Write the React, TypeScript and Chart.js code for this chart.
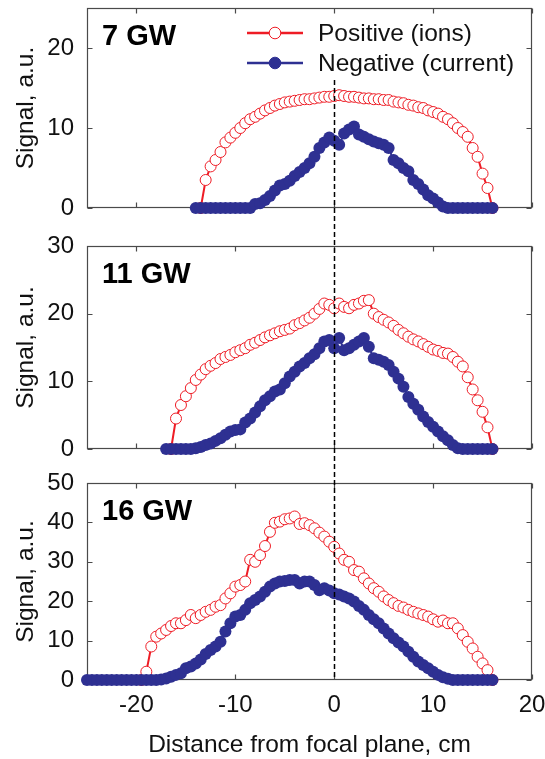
import React, { useEffect, useRef } from 'react';
import { Chart, registerables } from 'chart.js';

Chart.register(...registerables);

const _ = null;

// Distance from focal plane, cm (shared sampling grid)
const X = [
  -25, -24.5, -24, -23.5, -23, -22.5, -22, -21.5, -21, -20.5,
  -20, -19.5, -19, -18.5, -18, -17.5, -17, -16.5, -16, -15.5,
  -15, -14.5, -14, -13.5, -13, -12.5, -12, -11.5, -11, -10.5,
  -10, -9.5, -9, -8.5, -8, -7.5, -7, -6.5, -6, -5.5,
  -5, -4.5, -4, -3.5, -3, -2.5, -2, -1.5, -1, -0.5,
  0, 0.5, 1, 1.5, 2, 2.5, 3, 3.5, 4, 4.5,
  5, 5.5, 6, 6.5, 7, 7.5, 8, 8.5, 9, 9.5,
  10, 10.5, 11, 11.5, 12, 12.5, 13, 13.5, 14, 14.5,
  15, 15.5, 16,
];

const X_TICKS = [-20, -10, 0, 10, 20];

// 7 GW
const POS_7 = [
  _, _, _, _, _, _, _, _, _, _,
  _, _, _, _, _, _, _, _, _, _,
  _, _, _, 0, 3.5, 5.2, 6.0, 7.0, 8.2, 8.8,
  9.4, 10.0, 10.6, 11.1, 11.4, 11.8, 12.2, 12.5, 12.8, 13.0,
  13.2, 13.3, 13.4, 13.5, 13.6, 13.6, 13.7, 13.8, 13.9, 13.9,
  14.0, 14.1, 14.0, 13.9, 13.9, 13.8, 13.7, 13.7, 13.6, 13.6,
  13.5, 13.5, 13.3, 13.2, 13.1, 12.9, 12.8, 12.6, 12.5, 12.2,
  12.0, 11.8, 11.4, 11.1, 10.6, 10.0, 9.5, 8.9, 7.5, 6.4,
  4.3, 2.5, 0,
];
const NEG_7 = [
  _, _, _, _, _, _, _, _, _, _,
  _, _, _, _, _, _, _, _, _, _,
  _, _, 0, 0, 0, 0, 0, 0, 0, 0,
  0, 0, 0, 0, 0.5, 0.6, 1.0, 1.5, 2.2, 2.8,
  3.0, 3.4, 4.0, 4.5, 5.0, 5.6, 6.4, 7.5, 8.2, 8.8,
  8.4, 7.9, 9.3, 9.8, 10.2, 9.2, 8.9, 8.6, 8.3, 8.1,
  7.9, 7.5, 6.0, 5.6, 5.0, 4.6, 3.5, 3.0, 2.3, 1.6,
  1.2, 0.7, 0.2, 0, 0, 0, 0, 0, 0, 0,
  0, 0, 0,
];
const Y_TICKS_7 = [0, 10, 20];

// 11 GW
const POS_11 = [
  _, _, _, _, _, _, _, _, _, _,
  _, _, _, _, _, _, _, 0, 4.5, 6.5,
  7.8, 9.0, 10.2, 11.0, 11.8, 12.3, 12.7, 13.3, 13.6, 13.9,
  14.3, 14.6, 14.9, 15.4, 15.7, 16.1, 16.5, 16.8, 17.1, 17.4,
  17.6, 17.8, 18.3, 18.6, 19.0, 19.4, 20.0, 20.7, 21.5, 21.3,
  20.8, 21.5, 21.0, 20.8, 21.3, 21.5, 21.9, 22.0, 20.0, 19.5,
  19.1, 18.7, 18.2, 17.6, 17.1, 16.6, 16.2, 15.9, 15.5, 15.1,
  14.7, 14.5, 14.2, 14.1, 13.6, 12.9, 12.2, 10.6, 8.8, 7.2,
  5.5, 3.2, 0,
];
const NEG_11 = [
  _, _, _, _, _, _, _, _, _, _,
  _, _, _, _, _, _, 0, 0, 0, 0,
  0, 0, 0.1, 0.3, 0.6, 0.8, 1.2, 1.6, 2.1, 2.6,
  2.8, 2.9, 3.9, 4.5, 5.4, 6.3, 7.2, 7.8, 8.5, 8.8,
  9.7, 10.7, 11.4, 12.2, 12.7, 13.4, 14.0, 14.9, 15.9, 16.1,
  14.9, 16.4, 14.6, 14.9, 15.4, 15.9, 16.4, 15.1, 13.4, 13.2,
  12.9, 12.4, 11.4, 10.4, 9.2, 7.7, 6.7, 5.8, 4.8, 4.0,
  3.3, 2.6, 1.9, 1.3, 0.6, 0.1, 0, 0, 0, 0,
  0, 0, 0,
];
const Y_TICKS_11 = [0, 10, 20, 30];

// 16 GW
const POS_16 = [
  _, _, _, _, _, _, _, _, _, _,
  _, 0, 2.1, 8.5, 11.0, 11.8, 12.7, 13.7, 14.4, 14.4,
  15.2, 16.5, 15.7, 16.5, 17.3, 17.8, 18.6, 19.0, 20.7, 22.0,
  23.7, 24.1, 25.0, 30.5, 30.0, 31.7, 34.0, 37.6, 39.9, 40.2,
  40.8, 41.0, 41.5, 39.6, 39.8, 39.3, 38.5, 37.4, 36.4, 35.1,
  33.8, 32.1, 30.5, 30.0, 27.9, 27.5, 25.8, 24.5, 23.3, 22.4,
  21.2, 20.3, 19.5, 18.8, 18.4, 17.8, 17.3, 16.9, 16.5, 16.1,
  15.4, 14.8, 15.1, 14.4, 14.4, 13.1, 11.4, 9.7, 8.0, 5.9,
  4.2, 2.5, 0,
];
const NEG_16 = [
  0, 0, 0, 0, 0, 0, 0, 0, 0, 0,
  0, 0, 0, 0, 0, 0.1, 0.4, 0.8, 1.3, 1.7,
  3.0, 3.4, 4.2, 5.2, 6.6, 7.6, 8.5, 9.7, 12.3, 14.4,
  16.1, 16.5, 17.8, 19.5, 20.3, 21.2, 22.4, 23.7, 24.5, 25.0,
  25.1, 25.4, 25.4, 24.5, 25.0, 25.0, 24.1, 22.8, 23.3, 22.7,
  22.0, 21.7, 21.2, 20.7, 19.9, 18.8, 17.8, 16.5, 15.4, 14.4,
  13.1, 11.8, 10.6, 9.5, 8.5, 7.2, 5.9, 4.7, 3.8, 3.0,
  2.1, 1.3, 0.7, 0.3, 0, 0, 0, 0, 0, 0,
  0, 0, 0,
];
const Y_TICKS_16 = [0, 10, 20, 30, 40, 50];

const SERIES_NAMES = ['Positive (ions)', 'Negative (current)'];
const X_TITLE = 'Distance from focal plane, cm';
const Y_TITLE = 'Signal, a.u.';

const W = 545;
const H = 759;
const LEFT = 87;
const RIGHT = 532;
const TICK = 5;
const FONT = '"Liberation Sans", Arial, Helvetica, sans-serif';
const TICK_SIZE = 24;
const TEXT_SIZE = 24.5;
const RED = '#ee1c25';
const BLUE = '#2e3092';
const FRAME = '#4a4a4a';
const TEXT = '#111111';

type Panel = {
  label: string;
  pos: (number | null)[];
  neg: (number | null)[];
  yMax: number;
  yTicks: number[];
  top: number;
  bottom: number;
  legend?: boolean;
  last?: boolean;
};

const PANELS: Panel[] = [
  { label: '7 GW', pos: POS_7, neg: NEG_7, yMax: 25, yTicks: Y_TICKS_7, top: 8, bottom: 208, legend: true },
  { label: '11 GW', pos: POS_11, neg: NEG_11, yMax: 30, yTicks: Y_TICKS_11, top: 246, bottom: 449 },
  { label: '16 GW', pos: POS_16, neg: NEG_16, yMax: 50, yTicks: Y_TICKS_16, top: 483, bottom: 680, last: true },
];

const toPoints = (vals: (number | null)[]) =>
  X.map((x, i) => ({ x, y: vals[i] })).filter((p) => p.y !== null && p.y !== undefined);

const zeroPad = (s: any) => {
  s.paddingTop = 0;
  s.paddingBottom = 0;
  s.paddingLeft = 0;
  s.paddingRight = 0;
};

function makePlugin(p: Panel) {
  return {
    id: 'frameDecor',
    beforeDatasetsDraw(chart: any) {
      const { ctx, chartArea: a, scales } = chart;
      ctx.save();
      ctx.strokeStyle = FRAME;
      ctx.lineWidth = 1.2;
      const l = Math.round(a.left) + 0.5;
      const r = Math.round(a.right) - 0.5;
      const t = Math.round(a.top) + 0.5;
      const b = Math.round(a.bottom) - 0.5;
      ctx.strokeRect(l, t, r - l, b - t);
      ctx.beginPath();
      X_TICKS.forEach((v) => {
        const px = Math.round(scales.x.getPixelForValue(v)) + 0.5;
        ctx.moveTo(px, b);
        ctx.lineTo(px, b - TICK);
        ctx.moveTo(px, t);
        ctx.lineTo(px, t + TICK);
      });
      p.yTicks.forEach((v) => {
        const py = Math.round(scales.y.getPixelForValue(v)) + 0.5;
        ctx.moveTo(l, py);
        ctx.lineTo(l + TICK, py);
        ctx.moveTo(r, py);
        ctx.lineTo(r - TICK, py);
      });
      ctx.stroke();
      ctx.restore();
    },
    afterDraw(chart: any) {
      const { ctx, chartArea: a, scales } = chart;
      ctx.save();
      // panel label
      ctx.fillStyle = '#000';
      ctx.font = `bold 29px ${FONT}`;
      ctx.textAlign = 'left';
      ctx.textBaseline = 'middle';
      ctx.fillText(p.label, 102, a.top + 29);

      // y title
      ctx.save();
      ctx.translate(26, (a.top + a.bottom) / 2);
      ctx.rotate(-Math.PI / 2);
      ctx.font = `${TEXT_SIZE}px ${FONT}`;
      ctx.fillStyle = TEXT;
      ctx.textAlign = 'center';
      ctx.textBaseline = 'middle';
      ctx.fillText(Y_TITLE, 0, 0);
      ctx.restore();

      if (p.legend) {
        const rows = [
          { name: SERIES_NAMES[0], color: RED, fill: '#fff', y: a.top + 25 },
          { name: SERIES_NAMES[1], color: BLUE, fill: BLUE, y: a.top + 55 },
        ];
        rows.forEach((row) => {
          ctx.strokeStyle = row.color;
          ctx.lineWidth = 2.4;
          ctx.beginPath();
          ctx.moveTo(247, row.y);
          ctx.lineTo(303, row.y);
          ctx.stroke();
          ctx.beginPath();
          ctx.arc(275, row.y, 5.8, 0, Math.PI * 2);
          ctx.fillStyle = row.fill;
          ctx.fill();
          ctx.lineWidth = 1;
          ctx.stroke();
          ctx.fillStyle = TEXT;
          ctx.font = `${TEXT_SIZE}px ${FONT}`;
          ctx.textAlign = 'left';
          ctx.textBaseline = 'middle';
          ctx.fillText(row.name, 318, row.y + 1);
        });
      }

      if (p.last) {
        ctx.fillStyle = TEXT;
        ctx.font = `${TEXT_SIZE}px ${FONT}`;
        ctx.textAlign = 'center';
        ctx.textBaseline = 'middle';
        ctx.fillText(X_TITLE, (a.left + a.right) / 2, 745);

        const x0 = Math.round(scales.x.getPixelForValue(0)) + 0.5;
        ctx.strokeStyle = '#000';
        ctx.lineWidth = 1.5;
        ctx.setLineDash([5, 3]);
        ctx.beginPath();
        ctx.moveTo(x0, 80);
        ctx.lineTo(x0, a.bottom);
        ctx.stroke();
      }
      ctx.restore();
    },
  };
}

export default function App() {
  const refs = [useRef<HTMLCanvasElement>(null), useRef<HTMLCanvasElement>(null), useRef<HTMLCanvasElement>(null)];

  useEffect(() => {
    const charts = PANELS.map((p, idx) => {
      const canvas = refs[idx].current!;
      return new Chart(canvas, {
        type: 'line',
        data: {
          datasets: [
            {
              label: SERIES_NAMES[0],
              data: toPoints(p.pos),
              borderColor: RED,
              borderWidth: 2,
              pointRadius: 5.5,
              pointBackgroundColor: '#ffffff',
              pointBorderColor: RED,
              pointBorderWidth: 1,
              order: 1,
              clip: false,
              tension: 0,
            },
            {
              label: SERIES_NAMES[1],
              data: toPoints(p.neg),
              borderColor: BLUE,
              borderWidth: 2,
              pointRadius: 6,
              pointBackgroundColor: BLUE,
              pointBorderColor: BLUE,
              pointBorderWidth: 0,
              order: 0,
              clip: false,
              tension: 0,
            },
          ],
        },
        options: {
          responsive: false,
          animation: false,
          devicePixelRatio: 1,
          events: [],
          layout: {
            autoPadding: false,
            padding: {
              left: 0,
              right: W - RIGHT,
              top: p.top,
              bottom: p.last ? 0 : H - p.bottom,
            },
          },
          plugins: { legend: { display: false }, tooltip: { enabled: false } },
          scales: {
            x: {
              type: 'linear',
              min: -25,
              max: 20,
              grid: { display: false, drawTicks: false },
              border: { display: false },
              afterBuildTicks: (s: any) => {
                s.ticks = X_TICKS.map((v) => ({ value: v }));
              },
              afterFit: (s: any) => {
                s.height = p.last ? H - p.bottom : 0;
                zeroPad(s);
              },
              ticks: {
                display: !!p.last,
                padding: 11,
                autoSkip: false,
                maxRotation: 0,
                color: TEXT,
                font: { family: FONT, size: TICK_SIZE },
                callback: (v: any) => String(v),
              },
            },
            y: {
              type: 'linear',
              min: 0,
              max: p.yMax,
              grid: { display: false, drawTicks: false },
              border: { display: false },
              afterBuildTicks: (s: any) => {
                s.ticks = p.yTicks.map((v) => ({ value: v }));
              },
              afterFit: (s: any) => {
                s.width = LEFT;
                zeroPad(s);
              },
              ticks: {
                padding: 13,
                color: TEXT,
                font: { family: FONT, size: TICK_SIZE },
                callback: (v: any) => String(v),
              },
            },
          },
        },
        plugins: [makePlugin(p)],
      } as any);
    });
    return () => charts.forEach((c) => c.destroy());
  }, []);

  return (
    <div style={{ position: 'absolute', left: 0, top: 0, width: W, height: H, background: '#fff' }}>
      {refs.map((r, i) => (
        <canvas
          key={i}
          ref={r}
          width={W}
          height={H}
          style={{ position: 'absolute', left: 0, top: 0, width: W, height: H }}
        />
      ))}
    </div>
  );
}
